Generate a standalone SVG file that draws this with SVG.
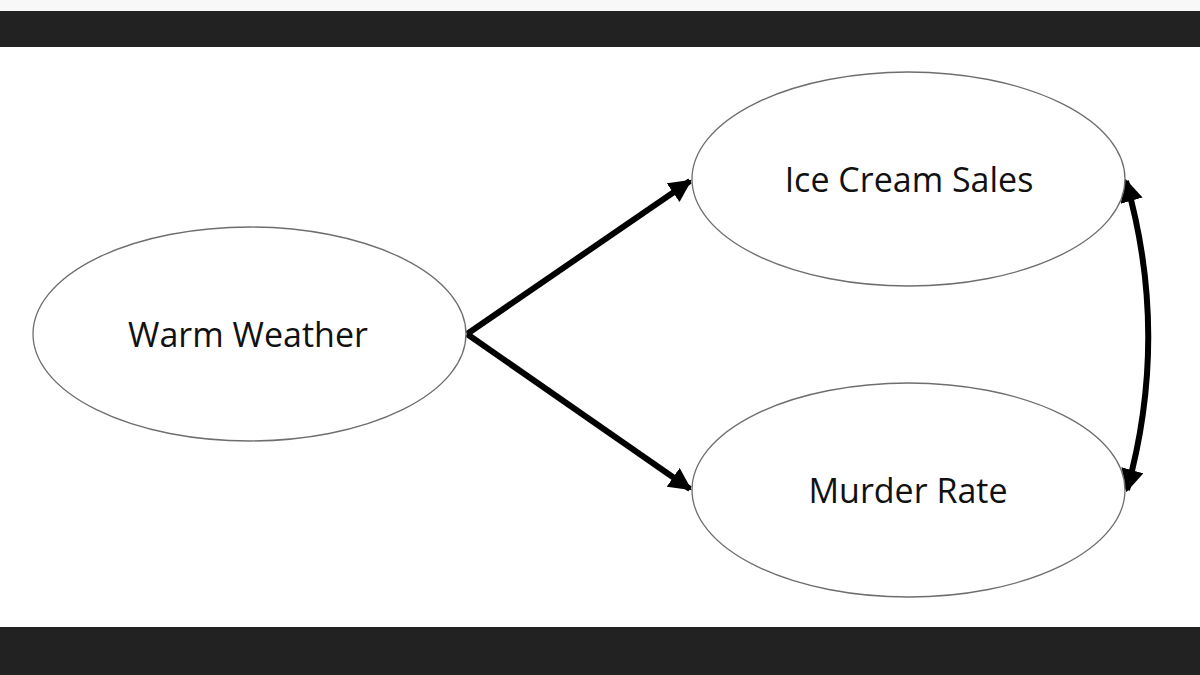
<svg xmlns="http://www.w3.org/2000/svg" width="1200" height="675" viewBox="0 0 1200 675">
<style>
.node ellipse{fill:#fff;stroke:#6e6e6e;stroke-width:1.3}
.node text{font-family:"Open Sans","Noto Sans",sans-serif;font-size:34px;fill:#111;text-anchor:middle}
.edge{fill:none;stroke:#000;stroke-width:6}
</style>
<defs>
<marker id="ah" viewBox="0 0 10 10" refX="9" refY="5" markerWidth="3.8" markerHeight="3.8" orient="auto-start-reverse" markerUnits="strokeWidth">
<path d="M0,0 L10,5 L0,10 z" fill="#000"/>
</marker>
</defs>
<rect x="0" y="0" width="1200" height="675" fill="#fff"/>
<rect x="0" y="0" width="1200" height="11" fill="#f8f8f8"/>
<rect x="0" y="11" width="1200" height="36" fill="#222"/>
<rect x="0" y="627" width="1200" height="48" fill="#222"/>
<g id="connectors">
<line class="edge" x1="467" y1="334" x2="690" y2="181" marker-end="url(#ah)"/>
<line class="edge" x1="467" y1="334" x2="690" y2="489" marker-end="url(#ah)"/>
<path class="edge" d="M1126,181 Q1170,335 1127,490" marker-start="url(#ah)" marker-end="url(#ah)"/>
</g>
<g id="warm-weather" class="node">
<ellipse cx="249.5" cy="334" rx="216.5" ry="107"/>
<text x="248" y="347">Warm Weather</text>
</g>
<g id="ice-cream-sales" class="node">
<ellipse cx="908.5" cy="179" rx="216.5" ry="107"/>
<text x="909" y="192">Ice Cream Sales</text>
</g>
<g id="murder-rate" class="node">
<ellipse cx="908.5" cy="490" rx="216.5" ry="107"/>
<text x="908" y="503">Murder Rate</text>
</g>
</svg>
